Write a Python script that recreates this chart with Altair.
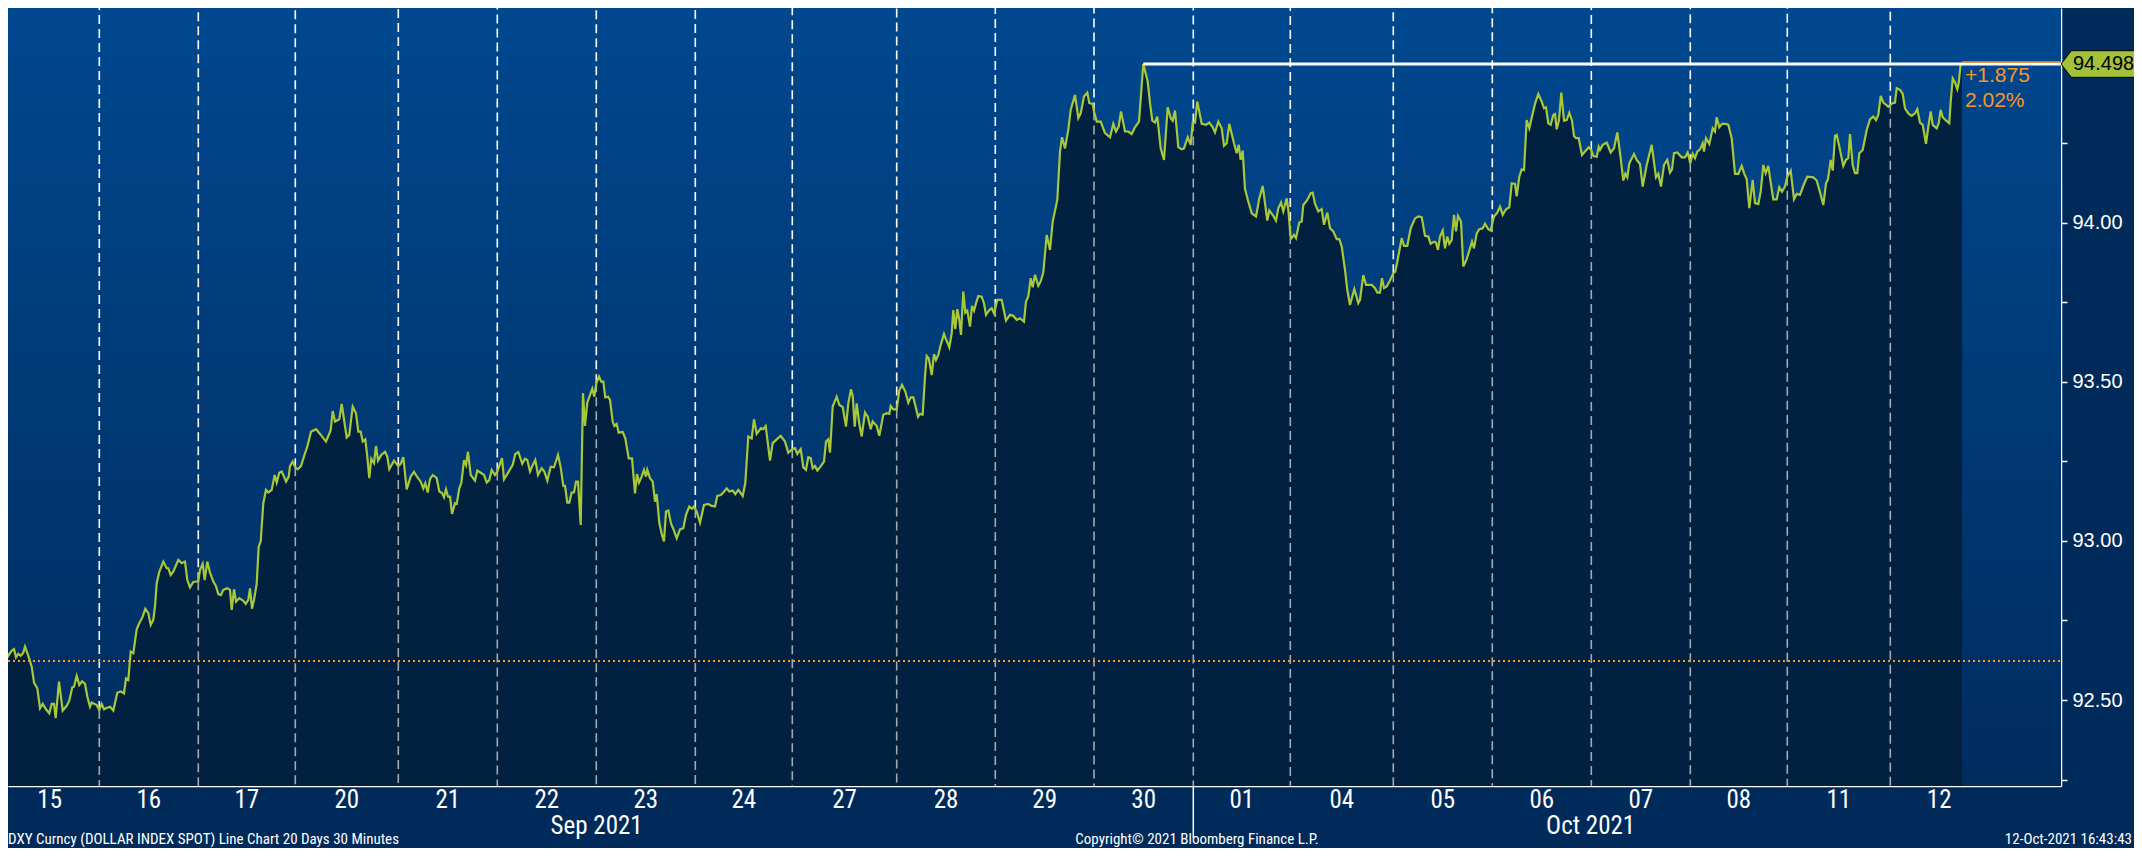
import altair as alt
import numpy as np
import pandas as pd

# DXY 30-minute closes. pos: session position, 100 ~ one trading day from Sep 15 open
pos = [
    0, 5, 8.3, 11.7, 14, 16, 18.3, 20.7, 23.3, 25, 28.3, 31.7, 34, 37.3, 40, 42.7, 46, 49.3, 51.7, 54, 55.7, 59,
    62.7, 66.7, 69.3, 72.3, 74, 76.7, 79.3, 82, 85, 87.3, 90, 91.7, 96.7,
    99.3, 101.7, 104, 106.7, 110, 113.3, 117.3, 120.7, 124, 126, 128.3, 130.7, 133.3, 136.7, 139.3, 142.7, 145.3,
    148.3, 150.7, 153.3, 155, 156.7, 159.3, 163.3, 166.7, 168.3, 170.7, 173.3, 178.3, 181.7, 185, 187.3, 190, 193.3,
    198.3, 200, 202.7, 204.7, 207.3, 210, 213.3, 216, 218.3, 221, 223.3, 227.3, 230, 231.7, 234, 236, 239.3, 243.3,
    245.7, 248.3, 250, 252, 254, 256.7, 258.7, 260.7, 263.3, 266, 268.3, 271.7, 274.7, 276.7, 279.3, 281.7, 284,
    286, 288.7, 290, 292.7,
    295.3, 297.7, 301, 304, 307.3, 311, 316, 320, 322.7, 326, 330.7, 332.7, 335, 339.3, 341.7, 346.7, 349.3, 352.7,
    356, 358.3, 360.7, 362.7, 365.3, 367.3, 369.3, 371.3, 374, 376, 378, 381.3, 385, 387.3, 389.3, 394,
    398.3, 400.7, 403.3, 406.7, 410.7, 414, 417.3, 420.7, 423.3, 425.3, 427.7, 430, 432.7, 436.7, 439.3, 442, 444,
    446, 448, 450, 452, 455, 456.7, 459.3, 461.3, 464, 466, 468, 470.7, 475, 477.3, 480.7, 484, 486.7, 489.3,
    491.7, 495,
    497.3, 499.3, 502, 504, 507.7, 512.7, 515.3, 518.3, 522.3, 525, 527.3, 530, 532, 535.3, 538, 541.7, 544.3,
    547.3, 550.7, 554, 558, 560.7, 563.3, 565, 567.3, 569.3, 571.7, 574, 576, 578, 580.7, 583, 585, 587.3, 590.7,
    592.3, 594.3,
    596.3, 599, 601.3, 603.3, 605.3, 608, 610, 612.7, 614.3, 616.7, 618.7, 622.7, 625.3, 628.7, 632, 635, 637, 639,
    641.7, 644, 646, 647.3, 650, 652.7, 655, 656.7, 659.3, 661.7, 664, 666, 668.3, 671, 674, 676.7, 680, 683.3,
    686, 689.3, 692, 694,
    696.7, 700, 704, 708.3, 711.7, 715, 717.3, 720.7, 723.3, 726.7, 729.3, 732.7, 735.3, 738.3, 742.7, 745.3,
    748.3, 751.7, 754, 756.7, 761, 763.3, 765.7, 770, 772.7, 776.7, 780.7, 785, 788.3,
    792.3, 795, 797.3, 800.7, 803.3, 806, 808.3, 810.7, 812.7, 815, 817.3, 820, 824, 826, 828.3, 830, 832.7,
    836.7, 839.3, 842.7, 846, 848.3, 851, 852.7, 854.7, 856.7, 859.3, 861.7, 865, 867.7, 870.7, 872.7, 876.7,
    879.3, 883.3, 886.7, 889.3, 890.7, 893.3,
    896.7, 899.3, 902, 905.3, 908.3, 910.7, 913.3, 916, 918, 920, 922.7, 925, 926.7, 928.7, 931.7, 934, 936,
    938.3, 940.7, 944, 946, 947.7, 949.3, 951.7, 953.3, 955.3, 957.3, 959.3, 961, 963.3, 965.3, 967.3, 970, 972,
    974, 976, 978.3, 981.7, 984, 986, 989.3, 991.7, 994,
    997.3, 1001.7, 1006, 1010, 1013.3, 1016.7, 1020, 1024, 1026, 1028.3, 1030.7, 1032.7, 1035, 1038.3, 1040.7,
    1043.3, 1046.7, 1050, 1052.7, 1057.3, 1060, 1062, 1065, 1068.3, 1070.7, 1075, 1078.3, 1080.7, 1084, 1087.3,
    1089.3, 1092.7,
    1094, 1096.7, 1100.7, 1105, 1110, 1113.3, 1116, 1118.7, 1121, 1125, 1128.3, 1131.7, 1135, 1139, 1143.3,
    1147.7, 1150, 1152.3, 1155, 1157.3, 1160.7, 1164, 1167.7, 1170.7, 1172.7, 1175, 1178.3, 1181.7, 1184,
    1187.7, 1190.7, 1192.7,
    1195, 1197.3, 1201.7, 1206, 1209.3, 1212.7, 1215, 1218.3, 1221.7, 1224, 1226.7, 1229.3, 1234, 1236.7,
    1238.7, 1240.7, 1242.7, 1245, 1248.3, 1251.7, 1256, 1259.3, 1262.7, 1267.3, 1269.3, 1273.3, 1276, 1278.3,
    1281, 1283.3, 1286.7, 1288.7,
    1290.3, 1291.7, 1294, 1296, 1299.3, 1301.7, 1303.3, 1307.3, 1310.7, 1312.7, 1315, 1318.3, 1321.7, 1324,
    1327.3, 1330, 1333.3, 1336.7, 1339.3, 1341.7, 1345, 1347.3, 1350, 1354.3, 1358.3, 1360, 1363.3, 1366,
    1371.7, 1375, 1377.3, 1380, 1382, 1384, 1386.7, 1390,
    1393.3, 1395.3, 1397.3, 1401.7, 1404, 1407.3, 1410.7, 1415, 1418.3, 1421.7, 1425, 1428.3, 1430.7, 1434,
    1436, 1438, 1440, 1442.7, 1445, 1447.3, 1449.3, 1451.7, 1454, 1456, 1458, 1461, 1463.3, 1466.7, 1470, 1472,
    1474, 1476.7, 1479.3, 1482.7, 1485, 1488.3, 1490.7,
    1492.3, 1494, 1497.3, 1500, 1502.7, 1506, 1509.3, 1511.7, 1515, 1516.7, 1519.3, 1521.7, 1524, 1526.7,
    1529.3, 1532, 1535, 1538.3, 1541.7, 1544, 1546, 1548.3, 1550.7, 1553.3, 1555, 1556.7, 1559, 1561.3, 1564,
    1566.7, 1569.3, 1572, 1574, 1576, 1578.7, 1582, 1585, 1588.7,
    1591.3, 1593.3, 1596.7, 1598.7, 1600, 1602.7, 1606.7, 1610.7, 1614, 1617.3, 1620.7, 1623.3, 1625.3, 1627.3,
    1629.3, 1634, 1636.7, 1640, 1642.7, 1646.7, 1651.7, 1656, 1658.3, 1661, 1664, 1667.3, 1670, 1672, 1674,
    1677.3, 1681.7, 1685, 1687.7,
    1690.3, 1692.7, 1695, 1697.3, 1700, 1702.7, 1704, 1706, 1709.3, 1712.7, 1715, 1716.7, 1719.3, 1722, 1726,
    1728.3, 1731.7, 1735, 1738.3, 1741.7, 1744.3, 1746.7, 1749.3, 1752.7, 1755, 1758.3, 1760.7, 1763.3, 1765.7,
    1768.3, 1770.7, 1773.3, 1776.7, 1779.3, 1782, 1785,
    1787.3, 1790.7, 1794, 1796.7, 1800, 1804, 1807.3, 1813.3, 1816.7, 1819.3, 1823.3, 1826, 1828, 1830.7,
    1832.7, 1835, 1836.7, 1839.3, 1843.3, 1846, 1848.3, 1850, 1852.7, 1855, 1857.3, 1859.3, 1862.7, 1866.7,
    1870, 1873.3, 1876, 1878.3, 1880.7, 1883.3, 1886, 1888.3,
    1890.3, 1892.7, 1895, 1896.7, 1900, 1902.7, 1905, 1908.3, 1911.7, 1915, 1917.3, 1920, 1922.7, 1926, 1928.3,
    1930.7, 1932.7, 1936.7, 1938.7, 1940.7, 1942.7, 1945, 1947.3, 1949.3, 1950.7, 1952.7, 1955, 1957.3, 1958.7,
    1960.7, 1962,
]

dxy = [
    92.673, 92.657, 92.639, 92.655, 92.660, 92.634, 92.645, 92.639, 92.649, 92.668, 92.639, 92.605, 92.555, 92.537,
    92.474, 92.488, 92.471, 92.458, 92.488, 92.488, 92.443, 92.558, 92.467, 92.482, 92.498, 92.540, 92.542,
    92.576, 92.547, 92.559, 92.551, 92.511, 92.479, 92.492, 92.484,
    92.469, 92.488, 92.471, 92.475, 92.479, 92.467, 92.523, 92.527, 92.521, 92.568, 92.563, 92.652, 92.647,
    92.722, 92.741, 92.762, 92.787, 92.773, 92.736, 92.752, 92.794, 92.867, 92.903, 92.935, 92.914, 92.914,
    92.893, 92.903, 92.940, 92.930, 92.935, 92.877, 92.854, 92.871,
    92.873, 92.909, 92.928, 92.877, 92.935, 92.900, 92.872, 92.858, 92.833, 92.830, 92.846, 92.851, 92.846,
    92.783, 92.848, 92.809, 92.820, 92.812, 92.802, 92.815, 92.851, 92.787, 92.815, 92.865, 92.982, 92.998,
    93.118, 93.160, 93.152, 93.160, 93.207, 93.183, 93.214, 93.218, 93.202, 93.186, 93.202, 93.235, 93.249,
    93.231, 93.225, 93.235, 93.265, 93.296, 93.343, 93.351, 93.336, 93.325, 93.312, 93.348, 93.408, 93.375,
    93.382, 93.430, 93.325, 93.333, 93.422, 93.401, 93.343, 93.343, 93.312, 93.319, 93.265, 93.197, 93.258,
    93.244, 93.298, 93.252, 93.270, 93.280, 93.265, 93.225, 93.252,
    93.235, 93.242, 93.263, 93.162, 93.202, 93.217, 93.200, 93.186, 93.165, 93.181, 93.152, 93.194, 93.207,
    93.197, 93.155, 93.150, 93.137, 93.162, 93.139, 93.139, 93.085, 93.118, 93.116, 93.165, 93.181, 93.254,
    93.238, 93.280, 93.207, 93.189, 93.221, 93.214, 93.207, 93.183, 93.191, 93.223, 93.207,
    93.218, 93.235, 93.260, 93.193, 93.212, 93.239, 93.273, 93.279, 93.242, 93.258, 93.254, 93.218, 93.233,
    93.254, 93.207, 93.228, 93.218, 93.189, 93.233, 93.231, 93.270, 93.231, 93.173, 93.173, 93.120, 93.120,
    93.152, 93.152, 93.186, 93.186, 93.050, 93.464, 93.361, 93.434, 93.464, 93.478, 93.453,
    93.495, 93.516, 93.500, 93.501, 93.451, 93.453, 93.443, 93.375, 93.361, 93.367, 93.340, 93.342, 93.322,
    93.259, 93.259, 93.149, 93.210, 93.183, 93.202, 93.223, 93.202, 93.223, 93.197, 93.186, 93.123, 93.147,
    93.057, 93.022, 92.998, 93.092, 93.095, 93.055, 93.032, 93.008, 93.036, 93.040, 93.082, 93.108, 93.101,
    93.108,
    93.092, 93.057, 93.113, 93.116, 93.110, 93.108, 93.141, 93.144, 93.152, 93.165, 93.155, 93.158, 93.147,
    93.160, 93.141, 93.181, 93.328, 93.322, 93.382, 93.336, 93.354, 93.351, 93.361, 93.252, 93.307, 93.319,
    93.330, 93.312, 93.277,
    93.288, 93.291, 93.273, 93.288, 93.231, 93.223, 93.263, 93.260, 93.228, 93.235, 93.221, 93.231, 93.249,
    93.312, 93.319, 93.277, 93.422, 93.453, 93.427, 93.420, 93.359, 93.432, 93.476, 93.455, 93.359, 93.432,
    93.367, 93.328, 93.403, 93.390, 93.351, 93.375, 93.361, 93.330, 93.396, 93.401, 93.399, 93.424, 93.413,
    93.413, 93.472, 93.490, 93.469, 93.434, 93.451, 93.451, 93.417, 93.390, 93.399, 93.397, 93.516, 93.581,
    93.574, 93.521, 93.587, 93.568, 93.584, 93.615, 93.650, 93.633, 93.621, 93.608, 93.652, 93.725, 93.665,
    93.728, 93.694, 93.647, 93.783, 93.717, 93.723, 93.673, 93.738, 93.723, 93.746, 93.769, 93.767, 93.746,
    93.710, 93.725, 93.731, 93.715,
    93.757, 93.757, 93.692, 93.710, 93.707, 93.694, 93.699, 93.689, 93.752, 93.768, 93.825, 93.797, 93.836,
    93.801, 93.815, 93.843, 93.961, 93.914, 94.003, 94.071, 94.223, 94.268, 94.233, 94.291, 94.354, 94.401,
    94.328, 94.343, 94.396, 94.408, 94.375, 94.373,
    94.349, 94.317, 94.317, 94.281, 94.268, 94.310, 94.286, 94.301, 94.349, 94.286, 94.286, 94.278, 94.299,
    94.317, 94.498, 94.443, 94.375, 94.320, 94.314, 94.333, 94.233, 94.197, 94.362, 94.328, 94.320, 94.352,
    94.237, 94.230, 94.233, 94.268, 94.244, 94.314,
    94.314, 94.380, 94.310, 94.307, 94.314, 94.299, 94.283, 94.317, 94.296, 94.241, 94.249, 94.310, 94.249,
    94.218, 94.244, 94.197, 94.226, 94.105, 94.066, 94.029, 94.019, 94.076, 94.115, 94.006, 94.038, 94.021,
    94.006, 94.045, 94.063, 94.035, 94.076, 94.029,
    93.961, 93.951, 93.961, 93.951, 94.000, 94.003, 94.055, 94.071, 94.092, 94.094, 94.059, 94.035, 94.042,
    93.993, 94.031, 93.982, 93.972, 93.948, 93.948, 93.925, 93.851, 93.788, 93.741, 93.791, 93.747, 93.757,
    93.835, 93.804, 93.804, 93.794, 93.780, 93.780, 93.825, 93.794, 93.799, 93.818,
    93.841, 93.846, 93.877, 93.951, 93.927, 93.927, 93.982, 94.013, 94.019, 94.017, 93.958, 93.956, 93.933,
    93.940, 93.937, 93.914, 93.956, 93.975, 93.919, 93.956, 93.933, 93.945, 94.024, 93.972, 94.021, 94.003,
    93.862, 93.885, 93.919, 93.940, 93.919, 93.966, 93.979, 93.982, 93.996, 93.979, 93.975,
    93.998, 94.019, 94.031, 94.050, 94.024, 94.042, 94.048, 94.123, 94.121, 94.082, 94.144, 94.167, 94.165,
    94.322, 94.296, 94.333, 94.373, 94.404, 94.380, 94.359, 94.362, 94.312, 94.307, 94.338, 94.341, 94.293,
    94.322, 94.408, 94.320, 94.322, 94.345, 94.320, 94.272, 94.265, 94.265, 94.212, 94.223, 94.236,
    94.228, 94.209, 94.207, 94.238, 94.228, 94.244, 94.251, 94.220, 94.233, 94.283, 94.202, 94.132, 94.153,
    94.142, 94.186, 94.215, 94.197, 94.184, 94.113, 94.181, 94.244, 94.142, 94.153, 94.113, 94.181, 94.197,
    94.157, 94.167, 94.218, 94.220, 94.205, 94.205, 94.220,
    94.186, 94.216, 94.202, 94.223, 94.230, 94.249, 94.223, 94.265, 94.247, 94.296, 94.286, 94.331, 94.299,
    94.310, 94.310, 94.307, 94.265, 94.153, 94.153, 94.178, 94.153, 94.136, 94.045, 94.134, 94.061, 94.058,
    94.097, 94.181, 94.155, 94.178, 94.126, 94.073, 94.073, 94.111, 94.097, 94.113,
    94.144, 94.163, 94.073, 94.090, 94.087, 94.121, 94.144, 94.142, 94.132, 94.103, 94.055, 94.123, 94.136,
    94.197, 94.163, 94.272, 94.275, 94.239, 94.178, 94.197, 94.202, 94.278, 94.181, 94.155, 94.155, 94.218,
    94.228, 94.291, 94.324, 94.333, 94.322, 94.338, 94.398, 94.377, 94.370, 94.364,
    94.370, 94.375, 94.377, 94.422, 94.417, 94.404, 94.359, 94.343, 94.335, 94.343, 94.356, 94.314, 94.307,
    94.247, 94.301, 94.349, 94.307, 94.296, 94.312, 94.354, 94.331, 94.324, 94.317, 94.312, 94.380, 94.453,
    94.440, 94.419, 94.438, 94.498, 94.498,
]

day_edges = [0, 99.3, 198.3, 295.3, 398.3, 497.3, 596.3, 695.3, 792.3, 896.7, 995.3, 1094, 1193.3,
             1290.3, 1393.3, 1492.3, 1591.3, 1690.3, 1787.3, 1890.3, 1988]
day_labels = ["15", "16", "17", "20", "21", "22", "23", "24", "27", "28", "29", "30",
              "01", "04", "05", "06", "07", "08", "11", "12"]
month_edges = [0, 1193.3, 1988]
month_labels = ["Sep 2021", "Oct 2021"]
y_ticks = [92.25, 92.5, 92.75, 93.0, 93.25, 93.5, 93.75, 94.0, 94.25]
last_price = 94.498
net_change = 1.875
pct_change = 2.02
x_domain = [8, 2061]
y_domain = [92.230, 94.674]

footer_left = "DXY Curncy (DOLLAR INDEX SPOT) Line Chart 20 Days 30 Minutes"
footer_mid = "Copyright\u00a9 2021 Bloomberg Finance L.P."
footer_right = "12-Oct-2021 16:43:43"

# ---------------- styling ----------------
W, H = 2053, 778
BG = "#002a5a"
GRAD_TOP = "#00488f"
GRAD_BOT = "#002c5e"
DARK = "#02203f"
LINE = "#a8c83a"
ORANGE = "#f7962b"
GRAY = "#a3a9b0"
NARROW = "Liberation Sans Narrow, Roboto Condensed, DejaVu Sans Condensed, sans-serif"
SANS = "Liberation Sans, Arial, sans-serif"

df = pd.DataFrame({"pos": pos, "dxy": dxy})
xs = alt.Scale(domain=x_domain, nice=False, zero=False)
ys = alt.Scale(domain=y_domain, nice=False, zero=False)

x_axis = alt.Axis(orient="bottom", labels=False, ticks=False, grid=False, title=None,
                  domainColor="white", domainWidth=1.5)
y_axis = alt.Axis(orient="right", values=y_ticks, grid=False, title=None,
                  labelExpr="datum.value % 0.5 == 0 ? format(datum.value, '.2f') : ''",
                  tickColor="white", tickSize=6, tickWidth=1.5,
                  domainColor="white", domainWidth=1.5,
                  labelColor="white", labelFont=SANS, labelFontSize=20, labelPadding=5)

one = pd.DataFrame({"a": [0]})

bg = alt.Chart(one).mark_rect(
    fill=alt.LinearGradient(gradient="linear", x1=0, x2=0, y1=0, y2=1,
                            stops=[alt.GradientStop(color=GRAD_TOP, offset=0),
                                   alt.GradientStop(color=GRAD_BOT, offset=1)])
).encode(x=alt.value(0), x2=alt.value(W), y=alt.value(0), y2=alt.value(H))

area = alt.Chart(df).mark_area(color=DARK, clip=True).encode(
    x=alt.X("pos:Q", scale=xs, axis=x_axis),
    y=alt.Y("dxy:Q", scale=ys, axis=y_axis),
    y2=alt.value(H),
)

edges_in = day_edges[1:-1]
edge_vals = np.interp(edges_in, pos, dxy)
rules_df = pd.DataFrame({"edge": edges_in, "val": edge_vals})
rules_top = alt.Chart(rules_df).mark_rule(color="white", strokeDash=[9, 5], strokeWidth=1.6).encode(
    x=alt.X("edge:Q", scale=xs), y=alt.Y("val:Q", scale=ys), y2=alt.value(0))
rules_bot = alt.Chart(rules_df).mark_rule(color=GRAY, strokeDash=[9, 5], strokeWidth=1.6).encode(
    x=alt.X("edge:Q", scale=xs), y=alt.Y("val:Q", scale=ys), y2=alt.value(H))

start_line = alt.Chart(one).mark_rule(color=ORANGE, strokeDash=[2, 3], strokeWidth=2).encode(
    x=alt.value(0), x2=alt.value(W), y=alt.datum(last_price - net_change))

line = alt.Chart(df).mark_line(color=LINE, strokeWidth=2.2, clip=True).encode(
    x=alt.X("pos:Q", scale=xs), y=alt.Y("dxy:Q", scale=ys))

peak = df.loc[df["dxy"].idxmax()]
high_line = alt.Chart(one).mark_rule(color="white", strokeWidth=3).encode(
    x=alt.datum(float(peak["pos"])), x2=alt.datum(x_domain[1]), y=alt.datum(float(peak["dxy"])))

last_pos = pos[-1]
last_line = alt.Chart(one).mark_rule(color=ORANGE, strokeWidth=1.5, yOffset=-2).encode(
    x=alt.datum(last_pos), x2=alt.datum(x_domain[1]), y=alt.datum(last_price))

chg1 = alt.Chart(one).mark_text(align="left", baseline="middle", dx=3, dy=12, color=ORANGE,
                                font=SANS, fontSize=21, text=f"+{net_change:.3f}").encode(
    x=alt.datum(last_pos), y=alt.datum(last_price))
chg2 = alt.Chart(one).mark_text(align="left", baseline="middle", dx=3, dy=37, color=ORANGE,
                                font=SANS, fontSize=21, text=f"{pct_change:.2f}%").encode(
    x=alt.datum(last_pos), y=alt.datum(last_price))

TAG = "M -1 0 L -0.72 -0.36 L 1 -0.36 L 1 0.36 L -0.72 0.36 Z"
tag = alt.Chart(one).mark_point(shape=TAG, size=74 * 74, filled=True, fill="#a3c23a", stroke="black",
                                strokeWidth=1, opacity=1, xOffset=37).encode(
    x=alt.datum(x_domain[1]), y=alt.datum(last_price))
tag_text = alt.Chart(one).mark_text(align="left", baseline="middle", dx=12, color="black",
                                    font=SANS, fontSize=20, text=f"{last_price:.3f}").encode(
    x=alt.datum(x_domain[1]), y=alt.datum(last_price))

mids = [(a + b) / 2 for a, b in zip(day_edges[:-1], day_edges[1:])]
days_df = pd.DataFrame({"mid": mids, "label": day_labels})
day_text = alt.Chart(days_df).mark_text(color="white", font=NARROW, fontSize=25,
                                        baseline="middle", align="center").encode(
    x=alt.X("mid:Q", scale=xs), y=alt.value(H + 14), text="label:N")

mmids = [(a + b) / 2 for a, b in zip(month_edges[:-1], month_edges[1:])]
months_df = pd.DataFrame({"mid": mmids, "label": month_labels})
month_text = alt.Chart(months_df).mark_text(color="white", font=NARROW, fontSize=25,
                                            baseline="middle", align="center").encode(
    x=alt.X("mid:Q", scale=xs), y=alt.value(H + 40), text="label:N")

month_sep = alt.Chart(one).mark_rule(color="white", strokeWidth=1.5).encode(
    x=alt.datum(month_edges[1]), y=alt.value(H), y2=alt.value(H + 52))

foot_l = alt.Chart(one).mark_text(color="white", font=NARROW, fontSize=15, align="left",
                                  baseline="bottom", text=footer_left).encode(
    x=alt.value(0), y=alt.value(H + 61))
foot_m = alt.Chart(one).mark_text(color="white", font=NARROW, fontSize=15, align="center",
                                  baseline="bottom", text=footer_mid).encode(
    x=alt.value(1189), y=alt.value(H + 61))
foot_r = alt.Chart(one).mark_text(color="white", font=NARROW, fontSize=15, align="right",
                                  baseline="bottom", text=footer_right).encode(
    x=alt.value(W + 71), y=alt.value(H + 61))

chart = alt.layer(
    bg, area, rules_top, rules_bot, start_line, line, high_line, last_line,
    chg1, chg2, tag, tag_text, day_text, month_text, month_sep, foot_l, foot_m, foot_r,
).properties(
    width=W, height=H, background=BG,
    padding={"left": 0, "top": 0, "right": 73, "bottom": 62},
    autosize=alt.AutoSizeParams(type="none"),
).configure_view(stroke=None)

chart.save("out.html", embed_options={"renderer": "svg", "actions": False})
